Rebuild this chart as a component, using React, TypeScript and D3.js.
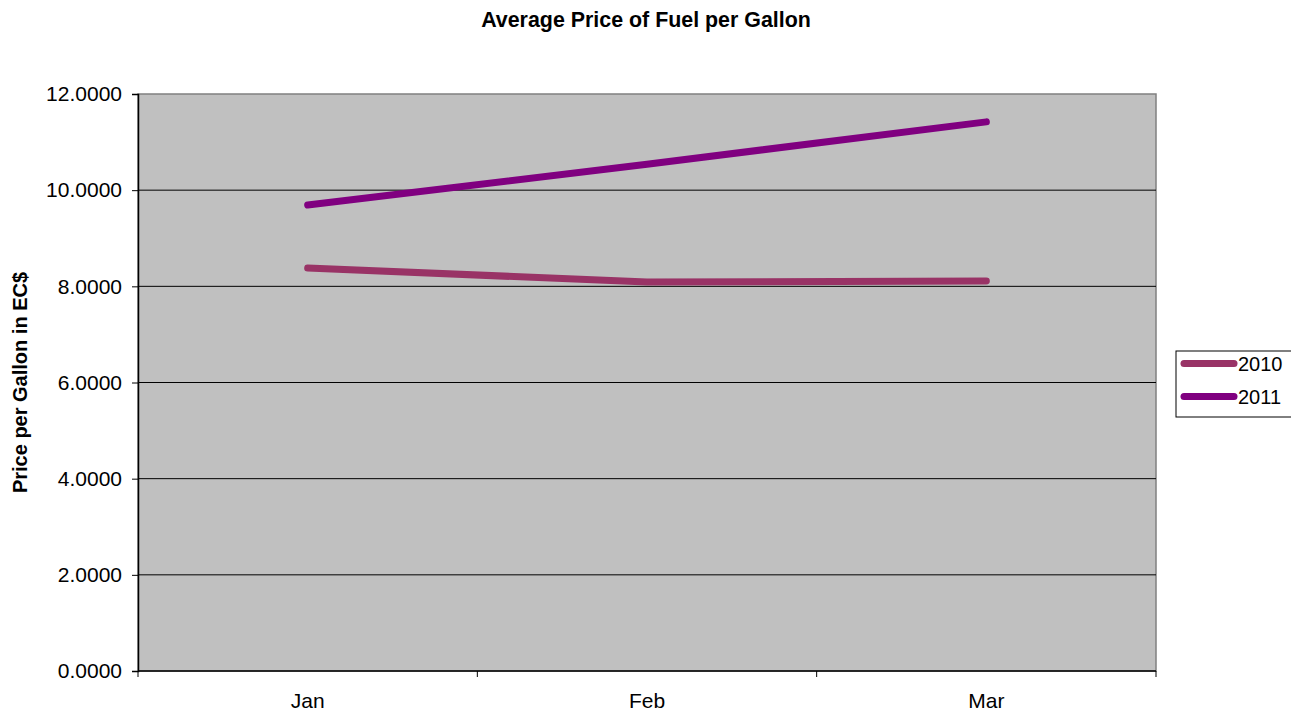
import React, { useEffect, useRef } from 'react';
import * as d3 from 'd3';

const months = ['Jan', 'Feb', 'Mar'];
const seriesNames = ['2010', '2011'];
const values2010 = [8.38, 8.09, 8.11];
const values2011 = [9.69, 10.54, 11.42];
const yTicks = [0, 2, 4, 6, 8, 10, 12];
const colors = ['#993366', '#800080'];

const W = 1291;
const H = 712;
const margin = { left: 138, right: 135, top: 94, bottom: 41 };
const font = 'Liberation Sans, Arial, sans-serif';

export default function App() {
  const ref = useRef<SVGSVGElement>(null);

  useEffect(() => {
    const svg = d3.select(ref.current);
    svg.selectAll('*').remove();

    const plotW = W - margin.left - margin.right;
    const plotH = H - margin.top - margin.bottom;

    const x = d3.scaleBand().domain(months).range([0, plotW]).padding(0);
    const y = d3.scaleLinear().domain([0, 12]).range([plotH, 0]);

    // title
    svg
      .append('text')
      .attr('x', 646)
      .attr('y', 27)
      .attr('text-anchor', 'middle')
      .style('font-family', font)
      .style('font-size', '21.4px')
      .style('font-weight', 'bold')
      .text('Average Price of Fuel per Gallon');

    const g = svg.append('g').attr('transform', `translate(${margin.left},${margin.top})`);

    // plot background
    g.append('rect')
      .attr('width', plotW)
      .attr('height', plotH)
      .attr('fill', '#c0c0c0')
      .attr('stroke', '#808080')
      .attr('stroke-width', 1.5);

    // gridlines
    g.selectAll('line.grid')
      .data(yTicks.filter((d) => d > 0 && d < 12))
      .enter()
      .append('line')
      .attr('x1', 0)
      .attr('x2', plotW)
      .attr('y1', (d) => y(d))
      .attr('y2', (d) => y(d))
      .attr('stroke', '#000')
      .attr('stroke-width', 1);

    // y axis
    const yAxis = d3
      .axisLeft(y)
      .tickValues(yTicks)
      .tickSize(6)
      .tickPadding(10)
      .tickFormat((d) => d3.format('.4f')(d as number));
    const ya = g.append('g').call(yAxis);
    ya.selectAll('text').style('font-family', font).style('font-size', '21px').attr('fill', '#000');
    ya.select('.domain').attr('stroke', '#000').attr('stroke-width', 1.5);

    // x axis
    const xb = g.append('g').attr('transform', `translate(0,${plotH})`);
    xb.append('line').attr('x1', 0).attr('x2', plotW).attr('stroke', '#000').attr('stroke-width', 1.5);
    xb.selectAll('line.tick')
      .data(d3.range(months.length + 1))
      .enter()
      .append('line')
      .attr('x1', (i) => i * x.bandwidth())
      .attr('x2', (i) => i * x.bandwidth())
      .attr('y1', 0)
      .attr('y2', 6)
      .attr('stroke', '#000');
    xb.selectAll('text')
      .data(months)
      .enter()
      .append('text')
      .attr('x', (d) => (x(d) as number) + x.bandwidth() / 2)
      .attr('y', 37)
      .attr('text-anchor', 'middle')
      .style('font-family', font)
      .style('font-size', '21px')
      .text((d) => d);

    // y title
    svg
      .append('text')
      .attr('transform', `translate(27,${margin.top + plotH / 2}) rotate(-90)`)
      .attr('text-anchor', 'middle')
      .style('font-family', font)
      .style('font-size', '20px')
      .style('font-weight', 'bold')
      .text('Price per Gallon in EC$');

    // lines
    const line = d3
      .line<number>()
      .x((_, i) => (x(months[i]) as number) + x.bandwidth() / 2)
      .y((d) => y(d));

    [values2010, values2011].forEach((vals, i) => {
      g.append('path')
        .datum(vals)
        .attr('d', line)
        .attr('fill', 'none')
        .attr('stroke', colors[i])
        .attr('stroke-width', 7)
        .attr('stroke-linecap', 'round')
        .attr('stroke-linejoin', 'round');
    });

    // legend
    const lg = svg.append('g').attr('transform', 'translate(1176,351)');
    lg.append('rect')
      .attr('width', 120)
      .attr('height', 66)
      .attr('fill', '#fff')
      .attr('stroke', '#000')
      .attr('stroke-width', 1);
    seriesNames.forEach((name, i) => {
      const yy = 12.5 + i * 33;
      lg.append('line')
        .attr('x1', 8)
        .attr('x2', 58)
        .attr('y1', yy)
        .attr('y2', yy)
        .attr('stroke', colors[i])
        .attr('stroke-width', 7)
        .attr('stroke-linecap', 'round');
      lg.append('text')
        .attr('x', 62)
        .attr('y', yy + 7)
        .style('font-family', font)
        .style('font-size', '20px')
        .text(name);
    });
  }, []);

  return (
    <svg
      ref={ref}
      width={W}
      height={H}
      style={{ position: 'absolute', left: 0, top: 0, background: '#fff' }}
    />
  );
}
